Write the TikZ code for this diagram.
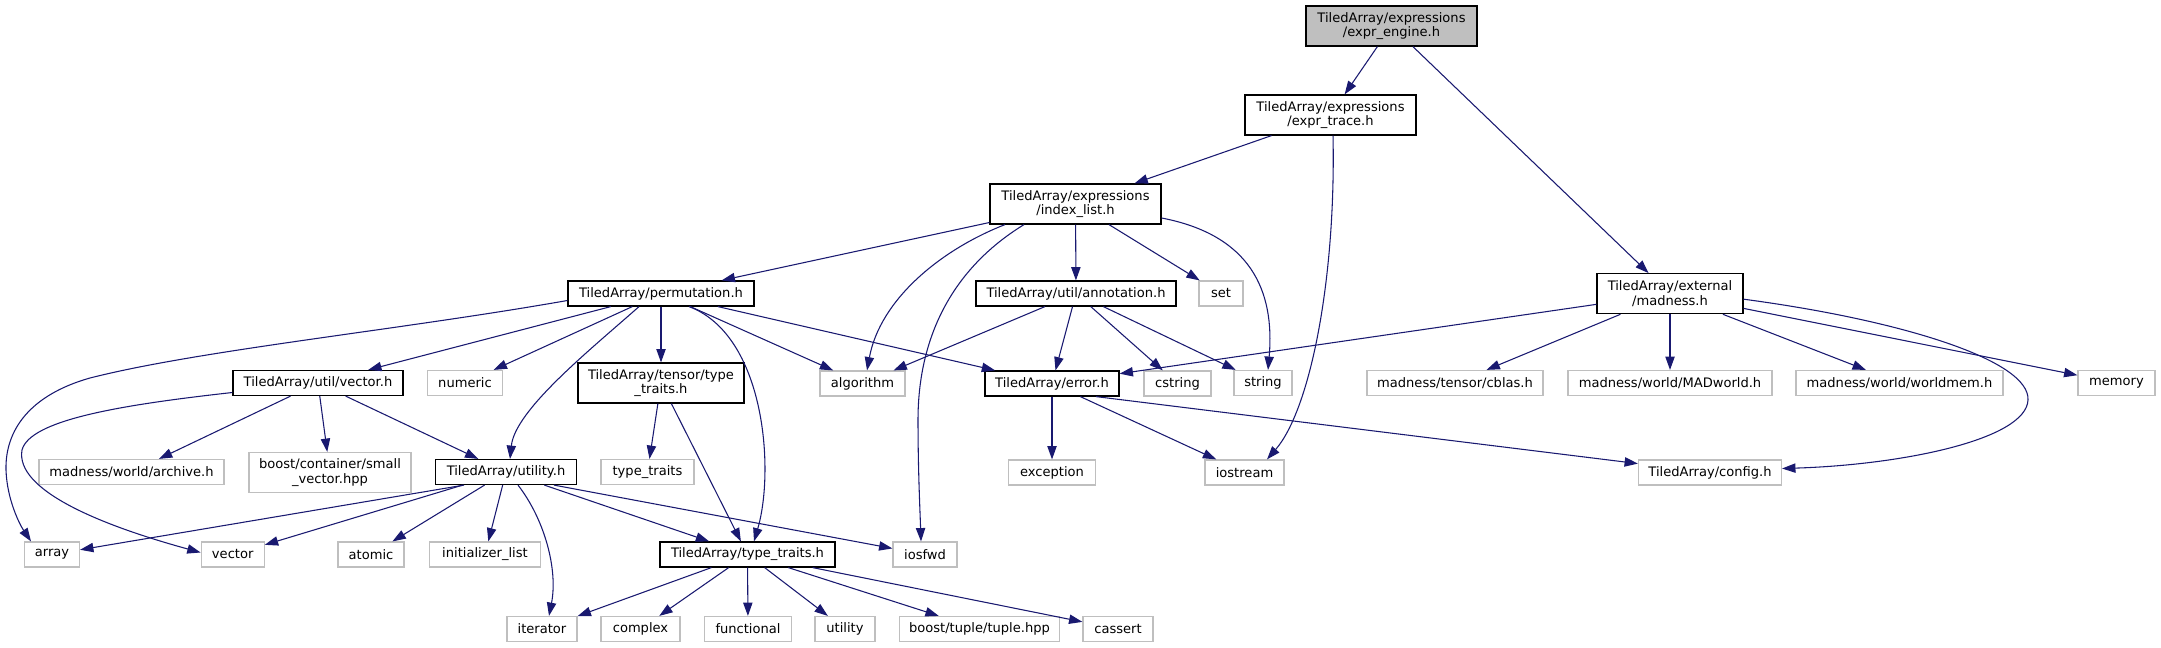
\documentclass[tikz,border=0pt]{standalone}
\usepackage{fontspec}
\setmainfont{DejaVu Sans}
\usetikzlibrary{arrows.meta,calc}
\definecolor{edgeblue}{HTML}{191970}
\definecolor{lgray}{HTML}{BFBFBF}
\begin{document}
\begin{tikzpicture}[x=0.75pt,y=-0.75pt,
  nd/.style={rectangle, inner sep=1pt, align=center, font=\fontsize{9.8pt}{10.8pt}\selectfont, fill=white},
  doc/.style={nd, draw=black, line width=0.9pt},
  ext/.style={nd, draw=lgray, line width=0.9pt},
  rootnd/.style={nd, draw=black, fill=lgray, line width=0.9pt},
  bw/.style={minimum width=#1*0.75pt},
  hone/.style={minimum height=25*0.75pt},
  htwo/.style={minimum height=40*0.75pt},
  conn/.style={draw=edgeblue, line width=0.8pt, -{Triangle[length=10pt,width=7pt]}}]
\useasboundingbox (0,0) rectangle (2161,648);
% nodes
\node[rootnd,bw=171,htwo] (eng) at (1391.5,26) {TiledArray/expressions\\/expr\_engine.h};
\node[doc,bw=171,htwo] (trace) at (1330.5,115) {TiledArray/expressions\\/expr\_trace.h};
\node[doc,bw=171,htwo] (il) at (1075.5,204) {TiledArray/expressions\\/index\_list.h};
\node[doc,bw=186,hone] (perm) at (661,293.5) {TiledArray/permutation.h};
\node[doc,bw=200,hone] (ann) at (1076,293.5) {TiledArray/util/annotation.h};
\node[ext,bw=44,hone] (set) at (1221,293.5) {set};
\node[doc,bw=146,htwo] (mad) at (1670,293.7) {TiledArray/external\\/madness.h};
\node[doc,bw=170,hone] (vec) at (318,383) {TiledArray/util/vector.h};
\node[ext,bw=75,hone] (num) at (465,383) {numeric};
\node[doc,bw=166,htwo] (ttt) at (661,383) {TiledArray/tensor/type\\\_traits.h};
\node[ext,bw=85,hone] (alg) at (862.5,383.5) {algorithm};
\node[doc,bw=134,hone] (err) at (1052,383.5) {TiledArray/error.h};
\node[ext,bw=67,hone] (cstr) at (1177.5,383.5) {cstring};
\node[ext,bw=58,hone] (str) at (1263,383) {string};
\node[ext,bw=176,hone] (cblas) at (1455,383) {madness/tensor/cblas.h};
\node[ext,bw=204,hone] (madw) at (1670,383) {madness/world/MADworld.h};
\node[ext,bw=207,hone] (wmem) at (1899.5,383) {madness/world/worldmem.h};
\node[ext,bw=77,hone] (mem) at (2116.5,383) {memory};
\node[ext,bw=185,hone] (arch) at (131.5,472) {madness/world/archive.h};
\node[ext,bw=162,htwo] (svec) at (330,472.5) {boost/container/small\\\_vector.hpp};
\node[doc,bw=141,hone] (ut) at (506,472) {TiledArray/utility.h};
\node[ext,bw=93,hone] (stt) at (647.5,472) {type\_traits};
\node[ext,bw=87,hone] (exc) at (1052,472.5) {exception};
\node[ext,bw=79,hone] (ios) at (1244.5,472.5) {iostream};
\node[ext,bw=143,hone] (cfg) at (1710,472.5) {TiledArray/config.h};
\node[ext,bw=55,hone] (arr) at (52,554.5) {array};
\node[ext,bw=63,hone] (vct) at (232.7,554.5) {vector};
\node[ext,bw=66,hone] (atm) at (371,554.5) {atomic};
\node[ext,bw=111,hone] (ilst) at (485,554.5) {initializer\_list};
\node[doc,bw=175,hone] (tth) at (747.5,554.5) {TiledArray/type\_traits.h};
\node[ext,bw=64,hone] (iosf) at (925,554.5) {iosfwd};
\node[ext,bw=70,hone] (itr) at (542,629) {iterator};
\node[ext,bw=79,hone] (cpx) at (640.5,629) {complex};
\node[ext,bw=87,hone] (fun) at (748,629) {functional};
\node[ext,bw=60,hone] (utl) at (845,629) {utility};
\node[ext,bw=160,hone] (tup) at (979.5,629) {boost/tuple/tuple.hpp};
\node[ext,bw=70,hone] (cas) at (1118,629) {cassert};
% edges
\draw[conn] (eng) -- (trace);
\draw[conn] (eng) -- (mad);
\draw[conn] (trace) -- (il);
\draw[conn] ($(trace.south)+(2.5,0)$) .. controls (1336,280) and (1310,410) .. ($(ios.north)+(22.5,0)$);
\draw[conn] (il) -- (perm);
\draw[conn] ($(il.south)+(-70.5,0)$) .. controls (940,250) and (880,300) .. ($(alg.north)+(4.5,0)$);
\draw[conn] ($(il.south)+(-51.5,0)$) .. controls (950,270) and (918,340) .. (918,420) .. controls (918,470) and (920,510) .. ($(iosf.north)+(-4,0)$);
\draw[conn] (il) -- (ann);
\draw[conn] (il) -- (set);
\draw[conn] ($(il.east)+(0,14)$) .. controls (1250,235) and (1275,290) .. ($(str.north)+(5,0)$);
\draw[conn] ($(perm.west)+(0,7)$) .. controls (400,330) and (200,350) .. (90,378) .. controls (30,395) and (5,430) .. (6,470) .. controls (7,500) and (20,525) .. ($(arr.north)+(-21,0)$);
\draw[conn] (perm) -- (vec);
\draw[conn] (perm) -- (num);
\draw[conn] ($(perm.south)+(-22,0)$) .. controls (590,350) and (515,410) .. ($(ut.north)+(4,0)$);
\draw[conn] (perm) -- (ttt);
\draw[conn] ($(perm.south)+(28,0)$) .. controls (765,335) and (775,470) .. ($(tth.north)+(6.5,0)$);
\draw[conn] (perm) -- (alg);
\draw[conn] (perm) -- (err);
\draw[conn] (ann) -- (alg);
\draw[conn] (ann) -- (err);
\draw[conn] (ann) -- (cstr);
\draw[conn] (ann) -- (str);
\draw[conn] (mad) -- (err);
\draw[conn] (mad) -- (cblas);
\draw[conn] (mad) -- (madw);
\draw[conn] (mad) -- (wmem);
\draw[conn] (mad) -- (mem);
\draw[conn] ($(mad.east)+(0,5.5)$) .. controls (1900,320) and (2030,360) .. (2028,400) .. controls (2026,440) and (1900,465) .. ($(cfg.east)+(0,-4)$);
\draw[conn] (err) -- (exc);
\draw[conn] (err) -- (ios);
\draw[conn] ($(err.south)+(44,0)$) -- (cfg);
\draw[conn] ($(vec.west)+(0,9.5)$) .. controls (120,405) and (30,420) .. (22,450) .. controls (15,490) and (100,525) .. ($(vct.west)+(0,-2)$);
\draw[conn] (vec) -- (arch);
\draw[conn] (vec) -- (svec);
\draw[conn] (vec) -- (ut);
\draw[conn] (ttt) -- (stt);
\draw[conn] (ttt) -- (tth);
\draw[conn] ($(ut.south)+(-42,0)$) -- (arr);
\draw[conn] (ut) -- (vct);
\draw[conn] (ut) -- (atm);
\draw[conn] (ut) -- (ilst);
\draw[conn] ($(ut.south)+(12,0)$) .. controls (545,520) and (558,570) .. ($(itr.north)+(7,0)$);
\draw[conn] (ut) -- (tth);
\draw[conn] ($(ut.south)+(48,0)$) -- (iosf);
\draw[conn] (tth) -- (itr);
\draw[conn] (tth) -- (cpx);
\draw[conn] (tth) -- (fun);
\draw[conn] (tth) -- (utl);
\draw[conn] (tth) -- (tup);
\draw[conn] (tth) -- (cas);
\end{tikzpicture}
\end{document}
